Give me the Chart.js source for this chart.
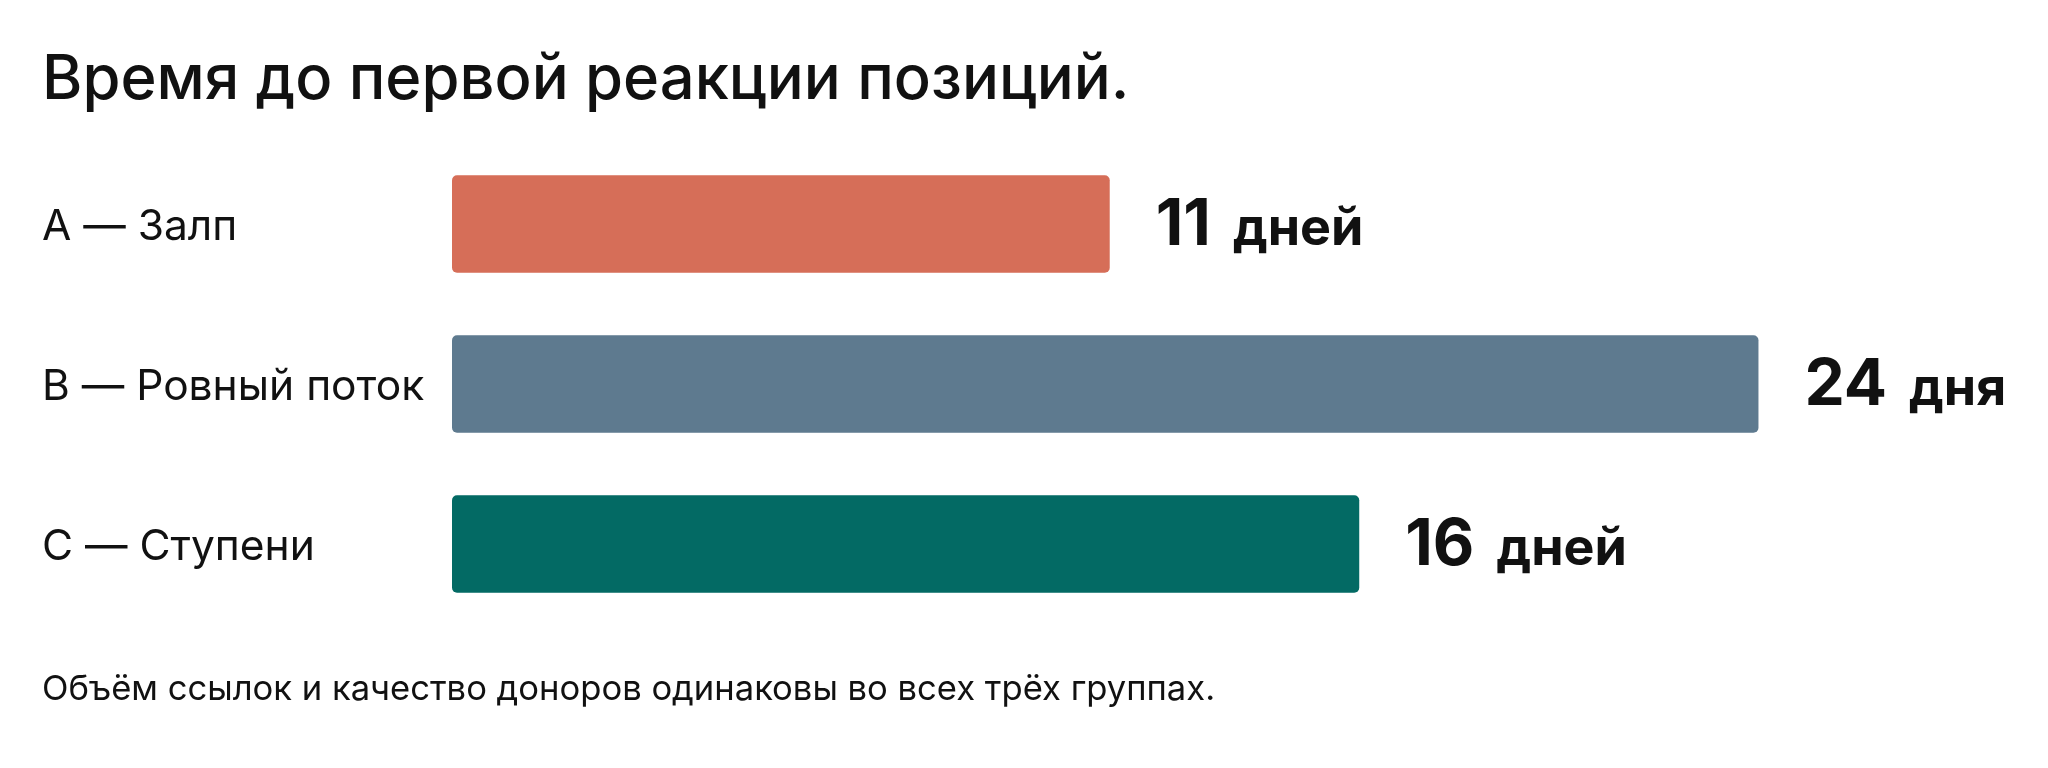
<!DOCTYPE html>
<html lang="ru">
<head>
<meta charset="utf-8">
<title>Время до первой реакции позиций</title>
<script src="https://cdn.jsdelivr.net/npm/chart.js@4/dist/chart.umd.min.js"></script>
<style>
  html, body { margin: 0; padding: 0; background: #ffffff; }
  canvas { display: block; }
</style>
</head>
<body>
<canvas id="c" width="2048" height="768"></canvas>
<script>
// ---- data ----
const titleText = "Время до первой реакции позиций.";
const footnoteText = "Объём ссылок и качество доноров одинаковы во всех трёх группах.";
const categories = ["A — Залп", "B — Ровный поток", "C — Ступени"];
const values = [11, 24, 16];
const units = ["дней", "дня", "дней"];
const axisMin = -2.18;
const axisMax = 28.84;

// ---- styles ----
const barColors = ["#D66E58", "#5E7A8F", "#036A64"];
const FONT = "Inter, 'Noto Sans', 'DejaVu Sans', sans-serif";
const INK = "#111111";

const valueLabels = {
  id: "valueLabels",
  afterDatasetsDraw(chart) {
    const ctx = chart.ctx;
    const meta = chart.getDatasetMeta(0);
    ctx.save();
    ctx.fillStyle = INK;
    ctx.textAlign = "left";
    ctx.textBaseline = "alphabetic";
    meta.data.forEach((bar, i) => {
      const x = bar.x + 46;
      const y = bar.y + 21;
      const num = String(values[i]);
      ctx.font = "700 64px " + FONT;
      ctx.fillText(num, x, y);
      const w = ctx.measureText(num).width;
      ctx.font = "700 52px " + FONT;
      ctx.fillText(units[i], x + w + 22, y);
    });
    ctx.restore();
  }
};

function draw() {
  new Chart(document.getElementById("c"), {
    type: "bar",
    data: {
      labels: categories,
      datasets: [{
        data: values,
        base: axisMin,
        backgroundColor: barColors,
        borderWidth: 0,
        borderRadius: 5,
        borderSkipped: false,
        barPercentage: 0.61,
        categoryPercentage: 1.0
      }]
    },
    options: {
      indexAxis: "y",
      responsive: false,
      devicePixelRatio: 1,
      animation: false,
      layout: { padding: { left: 42, right: 48, top: 0, bottom: 0 } },
      scales: {
        x: {
          display: false,
          min: axisMin,
          max: axisMax
        },
        y: {
          grid: { display: false },
          border: { display: false },
          ticks: {
            crossAlign: "far",
            color: INK,
            font: { family: FONT, size: 42.5, weight: "400" },
            padding: 0,
            labelOffset: 3
          },
          afterFit(scale) { scale.width = 410; }
        }
      },
      plugins: {
        legend: { display: false },
        tooltip: { enabled: false },
        title: {
          display: true,
          text: titleText,
          align: "start",
          color: INK,
          font: { family: FONT, size: 61.5, weight: "500", lineHeight: 1.2 },
          padding: { top: 44, bottom: 26.2 }
        },
        subtitle: {
          display: true,
          position: "bottom",
          text: footnoteText,
          align: "start",
          color: INK,
          font: { family: FONT, size: 34.6, weight: "400", lineHeight: 1.2 },
          padding: { top: 45, bottom: 57.5 }
        }
      }
    },
    plugins: [valueLabels]
  });
}

if (document.fonts && document.fonts.load) {
  Promise.all([
    document.fonts.load("400 40px Inter"),
    document.fonts.load("500 60px Inter"),
    document.fonts.load("700 64px Inter")
  ]).then(draw, draw);
} else {
  draw();
}
</script>
</body>
</html>
